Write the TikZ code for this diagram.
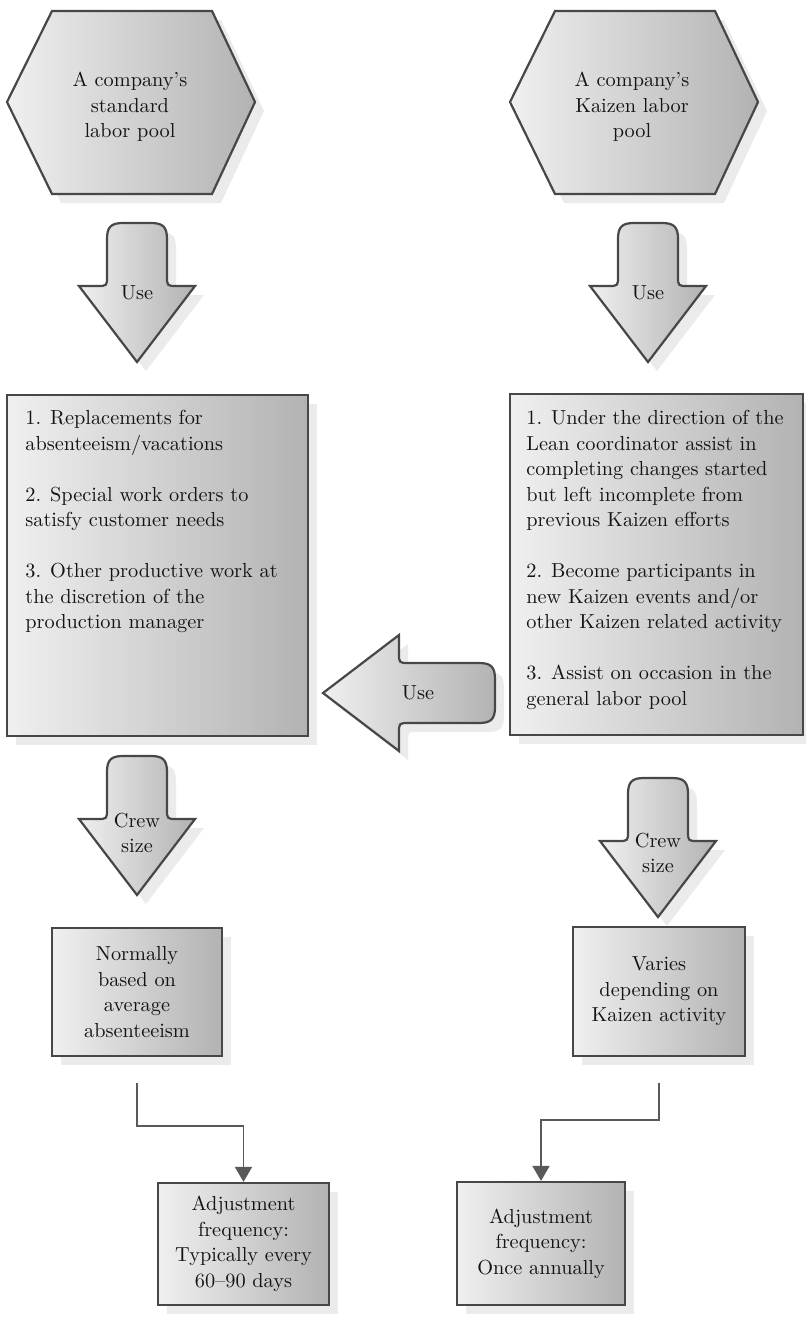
\documentclass[tikz,border=0pt]{standalone}
\usetikzlibrary{arrows.meta,shadows}

% Block arrow pointing down: #1 name, #2 centre x, #3 top y, #4 label offset, #5 label
\newcommand\BlockDown[5]{%
  \draw[shapefill] (#2-30,#3+53) -- (#2-30,#3+16)
      .. controls (#2-30,#3+4) and (#2-26,#3) .. (#2-14,#3) -- (#2+14,#3)
      .. controls (#2+26,#3) and (#2+30,#3+4) .. (#2+30,#3+16) -- (#2+30,#3+53)
      .. controls (#2+30,#3+63) .. (#2+40,#3+63) -- (#2+58,#3+63) -- (#2,#3+139)
      -- (#2-58,#3+63) -- (#2-40,#3+63)
      .. controls (#2-30,#3+63) .. (#2-30,#3+53) -- cycle;
  \node[align=center] (#1) at (#2,#3+#4) {#5};
}

\begin{document}
\begin{tikzpicture}[x=0.5pt, y=-0.5pt,
  every node/.style={inner sep=0pt, text=black!92, font=\fontsize{10.15}{12.75}\selectfont},
  shapefill/.style={draw=black!72, line width=1.1pt, left color=black!6, right color=black!30,
    drop shadow={shadow xshift=4.5pt, shadow yshift=-4.5pt, fill=black!8, opacity=1}},
  panel/.style 2 args={shapefill, rectangle, minimum width=#1*0.5pt, minimum height=#2*0.5pt},
  conn/.style={draw=black!65, line width=0.8pt, -{Triangle[width=8.5pt,length=7.5pt]}},
  listtext/.style={align=left, anchor=north west},
]
\useasboundingbox (0,0) rectangle (806,1318);

% labour pools
\draw[shapefill] (7,102) -- (52,11) -- (212,11) -- (255,102) -- (212,194) -- (52,194) -- cycle;
\node[align=center] (stdpool) at (130,107) {A company’s\\standard\\labor pool};
\draw[shapefill] (510,102) -- (555,11) -- (715,11) -- (758,102) -- (715,194) -- (555,194) -- cycle;
\node[align=center] (kzpool) at (632,107) {A company’s\\Kaizen labor\\pool};

% "Use" arrows from the pools
\BlockDown{useL}{137}{223}{70}{Use}
\BlockDown{useR}{648}{223}{70}{Use}

% task lists
\node[panel={301}{341}] (stdtasks) at (157.5,565.5) {};
\node[listtext] (stdlist) at (25,410) {1. Replacements for\\absenteeism/vacations\\[12.75pt]2. Special work orders to\\satisfy customer needs\\[12.75pt]3. Other productive work at\\the discretion of the\\production manager};
\node[panel={293}{341}] (kztasks) at (656.5,564.5) {};
\node[listtext] (kzlist) at (526,410) {1. Under the direction of the\\Lean coordinator assist in\\completing changes started\\but left incomplete from\\previous Kaizen efforts\\[12.75pt]2. Become participants in\\new Kaizen events and/or\\other Kaizen related activity\\[12.75pt]3. Assist on occasion in the\\general labor pool};

% Kaizen pool lends to the general pool
\draw[shapefill] (323,693) -- (399,635) -- (399,653) .. controls (399,663) .. (409,663)
    -- (479,663) .. controls (491,663) and (495,667) .. (495,679) -- (495,707)
    .. controls (495,719) and (491,723) .. (479,723) -- (409,723)
    .. controls (399,723) .. (399,733) -- (399,751) -- cycle;
\node (useM) at (418,693) {Use};

% crew size arrows
\BlockDown{crewL}{137}{756}{77}{Crew\\size}
\BlockDown{crewR}{658}{778}{75}{Crew\\size}

% crew size boxes
\node[panel={170}{128}, align=center] (normL) at (137,992) {Normally\\based on\\average\\absenteeism};
\node[panel={172}{129}, align=center] (variesR) at (659,991.5) {Varies\\depending on\\Kaizen activity};

% adjustment frequency boxes
\node[panel={171}{122}, align=center] (adjL) at (243.5,1244) {Adjustment\\frequency:\\Typically every\\60–90 days};
\node[panel={168}{123}, align=center] (adjR) at (541,1243.5) {Adjustment\\frequency:\\Once annually};

% connectors
\draw[conn] ([yshift=-13pt]normL.south) -- ++(0,43) -| (adjL.north);
\draw[conn] ([yshift=-13pt]variesR.south) -- ++(0,37) -| (adjR.north);
\end{tikzpicture}
\end{document}
